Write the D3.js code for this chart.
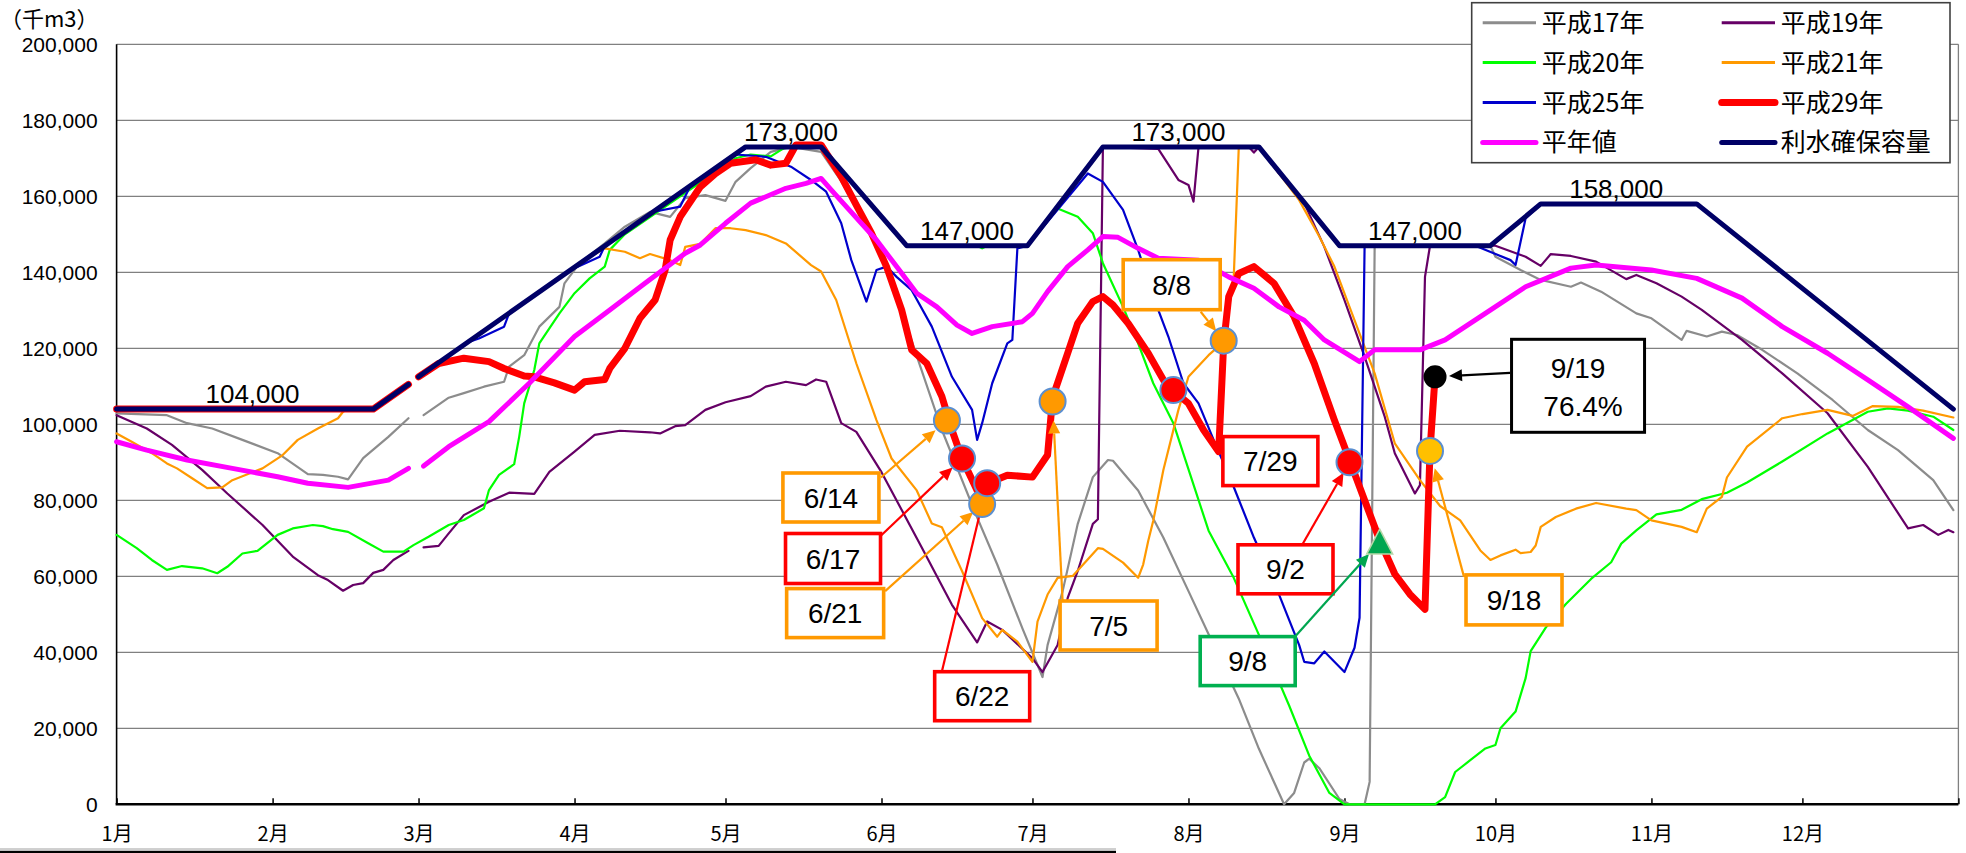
<!DOCTYPE html>
<html>
<head>
<meta charset="utf-8">
<script src="https://cdn.jsdelivr.net/npm/d3@7"></script>
<style>
  body { margin: 0; background: #fff; }
  svg text { font-family: "Liberation Sans", "Noto Sans CJK JP", sans-serif; }
  svg text.jp { font-family: "Noto Sans CJK JP", sans-serif; }
</style>
</head>
<body>
<svg width="1966" height="853"></svg>
<script>
// storage in 千m3; "2/29" null = no data in non-leap years
var h17 = [
  ["1/1",102900],["1/11",102400],["1/15",100300],["1/20",98900],["1/26",95900],["2/2",92400],
  ["2/8",86900],["2/11",86700],["2/14",86200],["2/16",85500],["2/19",91100],["2/24",96700],
  ["2/28",101600],["2/29",null],["3/2",102400],["3/7",107000],["3/10",108200],["3/14",109900],
  ["3/18",111200],["3/19",115200],["3/22",118200],["3/25",125700],["3/29",130900],["3/30",137100],
  ["4/2",142400],["4/7",147600],["4/11",152000],["4/16",155900],["4/20",154600],["4/23",159500],
  ["4/27",160300],["5/1",158800],["5/3",163800],["5/6",167400],["5/10",171700],["5/14",173000],
  ["5/20",171700],["5/24",164000],["5/27",157000],["6/2",142000],["6/5",130000],["6/8",118000],
  ["6/13",98500],["6/20",75500],["6/24",63100],["6/29",46300],["7/3",33500],["7/4",41900],
  ["7/7",56100],["7/10",73800],["7/13",86100],["7/16",90600],["7/17",90400],["7/22",82600],
  ["7/27",70200],["8/1",56100],["8/6",41900],["8/11",27800],["8/15",14600],["8/20",0],
  ["8/22",3000],["8/24",11000],["8/25",12000],["8/27",9500],["8/31",1400],["9/2",0],["9/5",0],
  ["9/6",5900],["9/7",147000],["9/30",147000],["10/1",144100],["10/6",140600],["10/10",138000],
  ["10/16",136200],["10/18",137300],["10/22",134900],["10/29",129200],["11/1",127900],
  ["11/7",122200],["11/8",124600],["11/12",123100],["11/15",124400],["11/18",123500],
  ["11/23",119600],["11/30",113400],["12/7",106400],["12/14",98500],["12/20",93200],
  ["12/27",85300],["12/31",77400]
];

var h19 = [
  ["1/1",102400],["1/7",98900],["1/12",94600],["1/18",88000],["1/23",81800],["1/30",73500],
  ["2/5",65200],["2/10",60300],["2/12",59000],["2/15",56200],["2/17",57700],["2/19",58200],
  ["2/21",60900],["2/23",61700],["2/25",64300],["2/28",66700],["2/29",null],["3/2",67600],
  ["3/5",68000],["3/7",71300],["3/10",76100],["3/15",79600],["3/19",82000],["3/24",81700],
  ["3/27",87500],["4/1",92800],["4/5",97200],["4/10",98300],["4/16",97900],["4/18",97600],
  ["4/21",99500],["4/23",99800],["4/27",103800],["5/1",105800],["5/6",107400],["5/9",109900],
  ["5/13",111200],["5/17",110300],["5/19",111800],["5/21",111200],["5/24",100300],["5/27",98000],
  ["6/1",87400],["6/9",67600],["6/15",52500],["6/20",42600],["6/22",48100],["6/25",45900],
  ["7/1",38400],["7/3",34800],["7/6",41900],["7/8",54300],["7/10",61400],["7/13",73800],
  ["7/14",75000],["7/15",173000],["7/26",172500],["7/30",164300],["8/1",163000],["8/2",158600],
  ["8/3",173000],["8/13",173000],["8/14",171500],["8/15",173000],["8/19",166000],["8/24",158200],
  ["8/28",146700],["9/1",132700],["9/5",117800],["9/9",102000],["9/11",92400],["9/15",81800],
  ["9/16",84000],["9/17",138800],["9/18",147000],["10/1",147000],["10/7",144100],["10/10",141700],
  ["10/12",144800],["10/16",144300],["10/21",142800],["10/27",138200],["10/29",139300],
  ["11/2",137100],["11/7",133600],["11/11",130100],["11/19",122200],["11/27",113400],
  ["12/6",102900],["12/14",88800],["12/22",72600],["12/25",73500],["12/28",70900],
  ["12/30",72200],["12/31",71600]
];

var h20 = [
  ["1/1",70900],["1/5",67400],["1/8",64300],["1/11",61700],["1/14",62700],["1/18",62100],
  ["1/21",60800],["1/23",62500],["1/26",66000],["1/29",66700],["2/2",70900],["2/5",72600],
  ["2/9",73500],["2/11",73200],["2/13",72400],["2/16",71700],["2/20",68700],["2/23",66500],
  ["2/27",66500],["2/29",68200],["3/3",70400],["3/7",73500],["3/10",74800],["3/14",77900],
  ["3/15",82700],["3/17",86700],["3/20",89500],["3/21",96700],["3/22",105500],["3/24",114300],
  ["3/25",121300],["3/29",129200],["4/1",134500],["4/4",138400],["4/7",141500],["4/8",145900],
  ["4/11",150000],["5/3",170000],["5/6",171000],["5/10",170500],["5/13",173000],["5/20",173000],
  ["6/6",147000],["6/20",147000],["6/21",146300],["6/22",147000],["6/30",147000],["7/6",156800],
  ["7/10",154600],["7/13",150300],["7/15",142400],["7/19",130900],["7/22",121300],["7/25",110800],
  ["7/29",100300],["8/5",72000],["8/10",59600],["8/15",44600],["8/21",26000],["8/25",12800],
  ["8/29",3000],["9/1",0],["9/19",0],["9/21",1900],["9/23",8500],["9/26",11600],["9/29",14700],
  ["10/1",15600],["10/2",20000],["10/5",24400],["10/7",33200],["10/8",40300],["10/11",46500],
  ["10/15",52700],["10/20",59300],["10/24",63700],["10/26",68600],["10/29",72100],["11/2",76300],
  ["11/7",77500],["11/11",80300],["11/16",82000],["11/20",84700],["11/27",90200],["12/6",97600],
  ["12/14",103300],["12/18",104200],["12/22",103600],["12/27",102000],["12/31",98500]
];

var h21 = [
  ["1/1",97600],["1/4",95400],["1/8",92400],["1/11",89700],["1/13",88400],["1/16",85800],
  ["1/19",83200],["1/22",83400],["1/24",85300],["1/30",88400],["2/3",91900],["2/6",95900],
  ["2/10",98900],["2/14",101600],["2/15",103300],["2/16",104000],["2/21",104000],["2/28",110500],
  ["2/29",null],["3/1",112500],["4/3",143200],["4/7",146300],["4/11",145400],["4/14",143700],
  ["4/16",144800],["4/20",143200],["4/22",141900],["4/23",146700],["4/26",147500],["4/29",151600],
  ["5/2",151600],["5/5",151100],["5/9",149800],["5/13",147600],["5/18",141900],["5/20",140200],
  ["5/23",132700],["5/27",116000],["5/31",101100],["6/3",91000],["6/8",82600],["6/11",73900],
  ["6/13",72900],["6/17",61400],["6/21",49000],["6/24",44100],["6/25",45900],["6/28",42800],
  ["7/1",37500],["7/2",48100],["7/4",55200],["7/6",59600],["7/9",60100],["7/14",67400],
  ["7/15",67200],["7/19",63600],["7/22",59600],["7/23",63100],["7/24",69300],["7/25",74600],
  ["7/27",87900],["7/30",103800],["8/1",112500],["8/5",118200],["8/8",121700],["8/10",138800],
  ["8/11",173000],["8/15",173000],["8/23",159000],["8/27",149400],["8/30",141500],["9/2",130900],
  ["9/5",120400],["9/7",113400],["9/11",95000],["9/16",85300],["9/20",78500],["9/24",74700],
  ["9/28",66800],["9/30",64300],["10/2",65500],["10/5",67000],["10/6",66100],["10/8",66400],
  ["10/9",68100],["10/10",73000],["10/13",75600],["10/17",77800],["10/21",79300],["10/27",77800],
  ["10/29",77400],["11/1",74700],["11/7",73000],["11/10",71600],["11/12",77800],["11/15",80900],
  ["11/16",86000],["11/20",94100],["11/27",101600],["12/1",102700],["12/6",103800],
  ["12/11",102200],["12/15",104800],["12/20",104600],["12/25",103600],["12/31",101800]
];

var h25 = [
  ["1/1",104000],["2/21",104000],["2/28",110500],["2/29",null],["3/1",112500],["3/11",121700],
  ["3/13",122600],["3/18",125700],["3/19",129200],["3/31",140500],["4/6",144100],["4/7",146900],
  ["4/17",156000],["4/22",157300],["4/24",162700],["5/3",171000],["5/9",170400],["5/14",167800],
  ["5/18",164300],["5/21",161200],["5/24",152900],["5/26",143200],["5/29",132300],["5/31",140600],
  ["6/2",141500],["6/4",138800],["6/7",135300],["6/11",125700],["6/15",112500],["6/19",103800],
  ["6/20",95900],["6/21",100300],["6/23",110800],["6/26",121300],["6/27",122200],["6/28",146300],
  ["6/30",147000],["7/12",166000],["7/15",163800],["7/19",156400],["7/22",145900],["7/25",133600],
  ["7/28",123100],["7/31",110800],["8/3",105500],["8/6",95900],["8/10",83500],["8/14",70200],
  ["8/19",55200],["8/23",41900],["8/24",37500],["8/26",37100],["8/28",40200],["8/30",37500],
  ["9/1",34800],["9/3",41200],["9/4",49100],["9/5",147000],["9/27",147000],["10/4",143200],
  ["10/5",141900],["10/7",154200],["10/10",158000]
];

var h29 = [
  ["1/1",104000],["2/21",104000],["2/28",110500],["2/29",null],["3/1",112500],["3/5",116000],
  ["3/10",117400],["3/15",116500],["3/18",114700],["3/22",112700],["3/24",112500],["3/28",110900],
  ["4/1",109000],["4/3",111200],["4/7",111800],["4/8",114700],["4/11",120000],["4/14",127900],
  ["4/17",132700],["4/19",140600],["4/20",148500],["4/22",154600],["4/26",162500],["4/29",166000],
  ["5/2",168700],["5/7",169600],["5/10",168200],["5/13",168700],["5/15",173500],["5/20",173500],
  ["5/24",165200],["5/27",157700],["5/30",150300],["6/2",141500],["6/5",130100],["6/7",119600],
  ["6/10",116000],["6/13",107300],["6/15",98500],["6/17",91000],["6/20",82600],["6/21",80000],
  ["6/22",84400],["6/26",86600],["7/1",86100],["7/4",91900],["7/5",107000],["7/8",118700],
  ["7/10",126600],["7/13",132300],["7/15",133600],["7/17",131400],["7/20",126600],["7/24",118700],
  ["7/27",111700],["7/29",108800],["8/1",105500],["8/4",98500],["8/7",92800],["8/8",121300],
  ["8/9",133600],["8/11",139700],["8/14",141500],["8/18",137100],["8/22",128300],["8/26",116000],
  ["8/30",101100],["9/2",90600],["9/5",80000],["9/8",69500],["9/11",60600],["9/14",55300],
  ["9/17",51300],["9/18",93200],["9/19",112500]
];

var normal = [
  ["1/1",95400],["1/7",93200],["1/15",90600],["1/24",88400],["2/2",86200],["2/8",84500],
  ["2/16",83400],["2/24",85300],["2/28",88400],["2/29",null],["3/2",89000],["3/7",94100],
  ["3/15",100700],["3/23",110800],["4/1",123100],["4/8",130100],["4/15",137100],["4/23",145000],
  ["4/26",147200],["5/1",152900],["5/6",158200],["5/13",162100],["5/17",163400],["5/20",164700],
  ["5/22",161700],["5/25",157300],["5/31",148500],["6/4",141500],["6/8",134500],["6/12",130900],
  ["6/16",126100],["6/19",123900],["6/23",125700],["6/29",127000],["7/1",129200],["7/4",134900],
  ["7/8",141500],["7/12",145900],["7/15",149400],["7/18",149200],["7/22",146300],["7/26",143700],
  ["8/3",143200],["8/9",138800],["8/14",135800],["8/19",130900],["8/24",127400],["8/28",122200],
  ["9/4",116500],["9/7",119600],["9/16",119600],["9/21",122200],["9/29",129200],["10/7",136200],
  ["10/16",141100],["10/21",141900],["11/1",140600],["11/10",138400],["11/19",133200],
  ["11/27",125700],["12/6",118700],["12/14",111700],["12/22",104600],["12/31",96300]
];

var capacity = [
  ["1/1",104000],["2/21",104000],["2/28",110500],["2/29",null],["3/1",112500],["5/5",173000],
  ["5/20",173000],["6/6",147000],["6/30",147000],["7/15",173000],["8/15",173000],["8/31",147000],
  ["9/30",147000],["10/10",158000],["11/10",158000],["12/31",104000]
];

// labels written on the rule curve
var capacityLabels = [
  ["1/28",104000,"104,000"],["5/14",173000,"173,000"],["6/18",147000,"147,000"],
  ["7/30",173000,"173,000"],["9/15",147000,"147,000"],["10/25",158000,"158,000"]
];

// dated points marked on 平成29年
var marks = [
  { date: "6/14", value: 101000, shape: "dot", fill: "#ff9900", label: "6/14", box: "#ff9900" },
  { date: "6/21", value: 79000, shape: "dot", fill: "#ff9900", label: "6/21", box: "#ff9900" },
  { date: "7/5", value: 106000, shape: "dot", fill: "#ff9900", label: "7/5", box: "#ff9900" },
  { date: "8/8", value: 122000, shape: "dot", fill: "#ff9900", label: "8/8", box: "#ff9900" },
  { date: "9/18", value: 93000, shape: "dot", fill: "#ffc000", label: "9/18", box: "#ff9900" },
  { date: "6/17", value: 91000, shape: "dot", fill: "#ff0000", label: "6/17", box: "#ff0000" },
  { date: "6/22", value: 84500, shape: "dot", fill: "#ff0000", label: "6/22", box: "#ff0000" },
  { date: "7/29", value: 109000, shape: "dot", fill: "#ff0000", label: "7/29", box: "#ff0000" },
  { date: "9/2", value: 90000, shape: "dot", fill: "#ff0000", label: "9/2", box: "#ff0000" },
  { date: "9/8", value: 69000, shape: "tri", fill: "#00a650", label: "9/8", box: "#00b050" },
  { date: "9/19", value: 112500, shape: "big", fill: "#000000", label: "9/19|76.4%", box: "#000000" }
];

// box placement relative to each marked point (px): box centre, size, arrow start, arrow gap
var boxLayout = {
  "6/14": { dx: -116, dy: 77, w: 96, h: 49, ax: -66, ay: 57, gap: 15 },
  "6/17": { dx: -129, dy: 100, w: 95, h: 50, ax: -82, ay: 78, gap: 13 },
  "6/21": { dx: -147, dy: 109, w: 97, h: 49, ax: -97, ay: 87, gap: 12 },
  "6/22": { dx: -5, dy: 213, w: 95, h: 49, ax: -45, ay: 187, gap: 12 },
  "7/5": { dx: 56, dy: 224, w: 97, h: 49, ax: 10, ay: 199, gap: 19 },
  "7/29": { dx: 97, dy: 71, w: 95, h: 49 },
  "8/8": { dx: -52, dy: -56, w: 97, h: 50, ax: -23, ay: -29, gap: 12 },
  "9/2": { dx: -64, dy: 107, w: 95, h: 49, ax: -47, ay: 82, gap: 12 },
  "9/8": { dx: -132, dy: 119, w: 95, h: 49, ax: -85, ay: 95, gap: 16 },
  "9/18": { dx: 84, dy: 149, w: 96, h: 50, ax: 34, ay: 126, gap: 18 },
  "9/19": { dx: 143, dy: 9, w: 133, h: 93, ax: 75, ay: -4, gap: 14 }
};

var series = [
  { name: "平成17年", data: h17, color: "#8c8c8c", width: 2.2 },
  { name: "平成19年", data: h19, color: "#660066", width: 2.2 },
  { name: "平成20年", data: h20, color: "#00ff00", width: 2.2 },
  { name: "平成21年", data: h21, color: "#ff9900", width: 2.2 },
  { name: "平成25年", data: h25, color: "#0000cc", width: 2.2 },
  { name: "平成29年", data: h29, color: "#ff0000", width: 7 },
  { name: "平年値", data: normal, color: "#ff00ff", width: 5 },
  { name: "利水確保容量", data: capacity, color: "#000066", width: 5 }
];

function toDate(s) {
  var p = s.split("/");
  return new Date(2008, +p[0] - 1, +p[1]);
}

var plotLeft = 116.6, plotRight = 1958.4, plotTop = 44.3, plotBottom = 804.3;

var svg = d3.select("svg");

var x = d3.scaleTime()
  .domain([new Date(2008, 0, 1), new Date(2009, 0, 1)])
  .range([plotLeft, plotRight]);
var y = d3.scaleLinear().domain([0, 200000]).range([plotBottom, plotTop]);

// grid
svg.append("g")
  .selectAll("line")
  .data(y.ticks(10).filter(function (d) { return d > 0; }))
  .enter()
  .append("line")
  .attr("x1", plotLeft)
  .attr("x2", plotRight)
  .attr("y1", function (d) { return y(d); })
  .attr("y2", function (d) { return y(d); })
  .attr("stroke", "#808080")
  .attr("stroke-width", 1.3);

svg.append("line")
  .attr("x1", plotRight).attr("x2", plotRight)
  .attr("y1", plotTop).attr("y2", plotBottom)
  .attr("stroke", "#808080").attr("stroke-width", 1.3);

// y axis
var yAxis = svg.append("g")
  .attr("transform", "translate(" + plotLeft + ",0)")
  .call(d3.axisLeft(y).ticks(10).tickFormat(d3.format(",")).tickSize(0).tickPadding(19));
yAxis.select(".domain").remove();
yAxis.attr("font-family", null).attr("font-size", null);
yAxis.selectAll("text").style("font-size", "21px").attr("fill", "#000");

// x axis
var months = d3.timeMonth.range(new Date(2008, 0, 1), new Date(2009, 0, 2));
var xAxis = svg.append("g")
  .attr("transform", "translate(0," + plotBottom + ")")
  .call(
    d3.axisBottom(x)
      .tickValues(months)
      .tickSizeInner(-6)
      .tickSizeOuter(0)
      .tickPadding(23)
      .tickFormat(function (d) {
        return d.getFullYear() > 2008 ? "" : d.getMonth() + 1 + "月";
      })
  );
xAxis.select(".domain").remove();
xAxis.attr("font-family", null).attr("font-size", null);
xAxis.selectAll("line").attr("stroke", "#000").attr("stroke-width", 1.5);
xAxis.selectAll("text").attr("class", "jp").style("font-size", "20px").attr("fill", "#000");

svg.append("line")
  .attr("x1", plotLeft).attr("x2", plotLeft)
  .attr("y1", plotTop).attr("y2", plotBottom)
  .attr("stroke", "#000").attr("stroke-width", 1.6);
svg.append("line")
  .attr("x1", plotLeft - 1).attr("x2", plotRight)
  .attr("y1", plotBottom).attr("y2", plotBottom)
  .attr("stroke", "#000").attr("stroke-width", 2.6);

// series lines
var line = d3.line()
  .defined(function (d) { return d[1] != null; })
  .x(function (d) { return x(toDate(d[0])); })
  .y(function (d) { return y(d[1]); });

svg.append("g")
  .selectAll("path")
  .data(series)
  .enter()
  .append("path")
  .attr("d", function (s) { return line(s.data); })
  .attr("fill", "none")
  .attr("stroke", function (s) { return s.color; })
  .attr("stroke-width", function (s) { return s.width; })
  .attr("stroke-linejoin", "round")
  .attr("stroke-linecap", "round");

// rule curve labels
svg.append("g")
  .selectAll("text")
  .data(capacityLabels)
  .enter()
  .append("text")
  .attr("x", function (d) { return x(toDate(d[0])); })
  .attr("y", function (d) { return y(d[1]) - 6; })
  .attr("text-anchor", "middle")
  .style("font-size", "26px")
  .text(function (d) { return d[2]; });

// boxes and arrows
function arrow(g, x1, y1, x2, y2, color) {
  var dx = x2 - x1, dy = y2 - y1, len = Math.sqrt(dx * dx + dy * dy);
  var ux = dx / len, uy = dy / len, head = 13, half = 6;
  var bx = x2 - ux * head, by = y2 - uy * head;
  g.append("line")
    .attr("x1", x1).attr("y1", y1).attr("x2", bx).attr("y2", by)
    .attr("stroke", color).attr("stroke-width", 2.2);
  g.append("path")
    .attr("d", "M" + x2 + "," + y2 +
      "L" + (bx - uy * half) + "," + (by + ux * half) +
      "L" + (bx + uy * half) + "," + (by - ux * half) + "Z")
    .attr("fill", color);
}

var notes = svg.append("g");
marks.forEach(function (m) {
  var px = x(toDate(m.date)), py = y(m.value), L = boxLayout[m.label.split("|")[0]];
  var cx = px + L.dx, cy = py + L.dy;
  if (L.ax != null) {
    var sx = px + L.ax, sy = py + L.ay;
    var dx = px - sx, dy = py - sy, len = Math.sqrt(dx * dx + dy * dy);
    var arrowColor = m.shape === "tri" ? "#00a650" : m.box;
    arrow(notes, sx, sy, px - dx / len * L.gap, py - dy / len * L.gap, arrowColor);
  }
  notes.append("rect")
    .attr("x", cx - L.w / 2).attr("y", cy - L.h / 2)
    .attr("width", L.w).attr("height", L.h)
    .attr("fill", "#fff")
    .attr("stroke", m.box)
    .attr("stroke-width", m.shape === "big" ? 3 : 3.6);
  var lines = m.label.split("|");
  notes.selectAll(null)
    .data(lines)
    .enter()
    .append("text")
    .attr("x", function (d, i) { return cx + (i ? 5 : 0); })
    .attr("y", function (d, i) { return cy + (lines.length > 1 ? (i ? 20 : -18) : 0); })
    .attr("dy", "0.36em")
    .attr("text-anchor", "middle")
    .style("font-size", "28px")
    .text(function (d) { return d; });
});

// markers (orange first so red ones sit on top)
var markerG = svg.append("g");
marks.forEach(function (m) {
  var px = x(toDate(m.date)), py = y(m.value);
  if (m.shape === "tri") {
    markerG.append("path")
      .attr("d", "M" + px + "," + (py - 13) + "L" + (px + 13) + "," + (py + 12) +
        "L" + (px - 13) + "," + (py + 12) + "Z")
      .attr("fill", m.fill)
      .attr("stroke", "#b7d7a8")
      .attr("stroke-width", 1.5);
  } else {
    markerG.append("circle")
      .attr("cx", px).attr("cy", py)
      .attr("r", m.shape === "big" ? 10.5 : 13)
      .attr("fill", m.fill)
      .attr("stroke", m.shape === "big" ? "#000" : "#5b8fd0")
      .attr("stroke-width", 2);
  }
});

// legend
var legend = svg.append("g");
legend.append("rect")
  .attr("x", 1471.7).attr("y", 2.7)
  .attr("width", 478.3).attr("height", 160)
  .attr("fill", "#fff")
  .attr("stroke", "#404040")
  .attr("stroke-width", 1.6);

var item = legend.selectAll("g.item")
  .data(series)
  .enter()
  .append("g")
  .attr("class", "item")
  .attr("transform", function (s, i) {
    return "translate(" + (1482.7 + (i % 2) * 239) + "," + (22.7 + Math.floor(i / 2) * 39.9) + ")";
  });
item.append("line")
  .attr("x1", 0).attr("x2", 53.3)
  .attr("stroke", function (s) { return s.color; })
  .attr("stroke-width", function (s) { return s.width > 3 ? s.width : 3; })
  .attr("stroke-linecap", function (s) { return s.width > 3 ? "round" : "butt"; });
item.append("text")
  .attr("class", "jp")
  .attr("x", 59)
  .attr("dy", "0.36em")
  .style("font-size", "25px")
  .text(function (s) { return s.name; });

// unit label
svg.append("text")
  .attr("class", "jp")
  .attr("x", 0)
  .attr("y", 27)
  .style("font-size", "22px")
  .text("（千m3）");

// table edge under the chart
svg.append("line")
  .attr("x1", 0).attr("x2", 1116).attr("y1", 849).attr("y2", 849)
  .attr("stroke", "#a0a0a0").attr("stroke-width", 1);
svg.append("line")
  .attr("x1", 0).attr("x2", 1116).attr("y1", 852).attr("y2", 852)
  .attr("stroke", "#000").attr("stroke-width", 2.5);
</script>
</body>
</html>
